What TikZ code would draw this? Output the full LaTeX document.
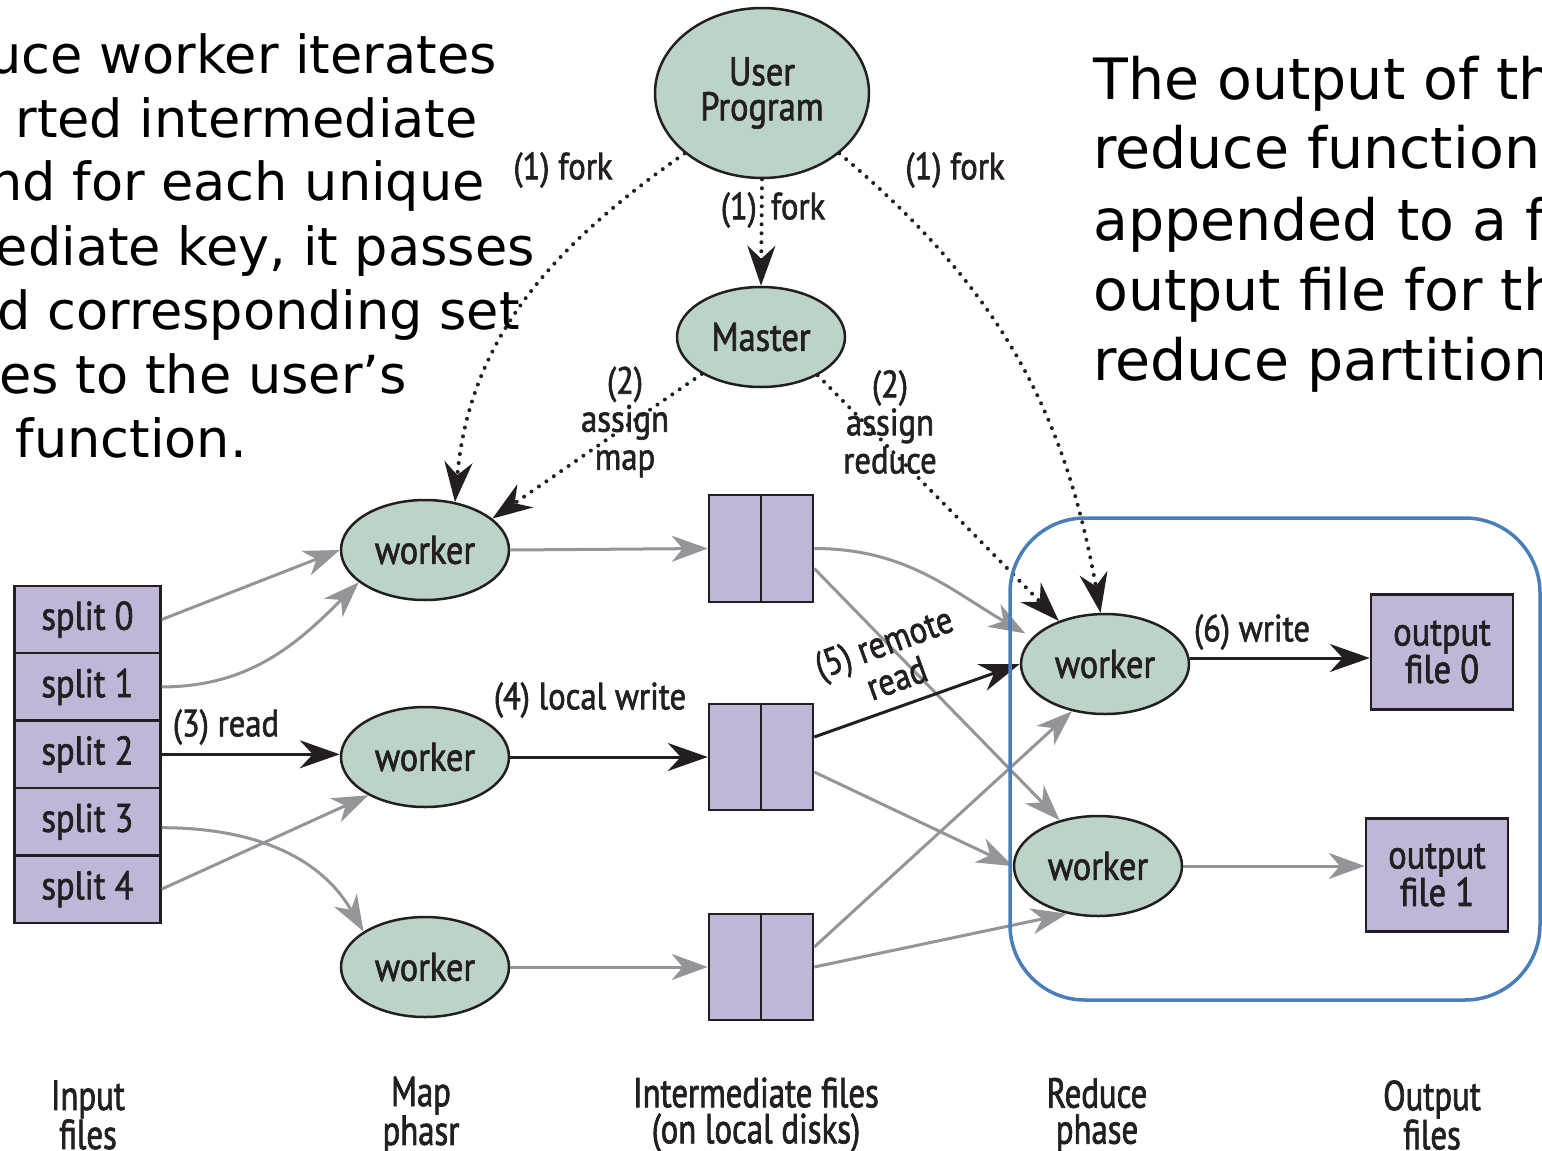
\documentclass[tikz,border=0pt]{standalone}
\usepackage{fontspec}
\setmainfont{DejaVu Sans}
\newfontfamily\dg[FakeStretch=0.86,FakeBold=1.6]{PT Sans}
\newfontfamily\dgn[FakeStretch=0.78,FakeBold=1.6]{PT Sans}
\usetikzlibrary{shapes.geometric,arrows.meta}
\definecolor{ellfill}{HTML}{BCD3C8}
\definecolor{boxfill}{HTML}{BFB6D8}
\definecolor{arrgrey}{HTML}{939598}
\definecolor{ink}{HTML}{231F20}
\definecolor{frameblue}{HTML}{4A7EBB}
\begin{document}
\begin{tikzpicture}[x=1pt,y=-1pt,
  ell/.style={ellipse, draw=ink, line width=2.5pt, fill=ellfill, minimum width=168pt, minimum height=100pt, inner sep=0pt, font=\dg\fontsize{40}{35}\selectfont, text=ink, align=center},
  filebox/.style={rectangle, draw=ink, line width=2.5pt, fill=boxfill, inner sep=0pt, font=\dg\fontsize{40}{36}\selectfont, text=ink, align=center},
  lbl/.style={font=\dg\fontsize{38}{38}\selectfont, text=ink, inner sep=0pt, align=center},
  phase/.style={font=\dgn\fontsize{42}{36}\selectfont, text=ink, inner sep=0pt, align=center},
  greyarr/.style={draw=arrgrey, line width=3pt, -{Stealth[length=36pt,width=26pt,inset=11pt]}},
  blackarr/.style={draw=ink, line width=3pt, -{Stealth[length=40pt,width=28pt,inset=13pt]}},
  dotarr/.style={draw=ink, line width=4pt, line cap=round, dash pattern=on 0pt off 9pt, -{Stealth[length=40pt,width=28pt,inset=13pt]}},
  bigl/.style={font=\fontsize{52.5}{64}\selectfont, inner sep=0pt, text=black, anchor=base east},
  bigr/.style={font=\fontsize{57}{70}\selectfont, inner sep=0pt, text=black, anchor=base west}
]
\useasboundingbox (0,0) rectangle (1542,1151);
\clip (0,0) rectangle (1542,1151);
\fill[white] (0,0) rectangle (1542,1151);

% explanatory texts
\node[bigl] (tl1) at (497,73) {uce worker iterates};
\node[bigl] (tl2) at (478,137) {rted intermediate};
\node[bigl] (tl3) at (485,200) {nd for each unique};
\node[bigl] (tl4) at (535,265) {ediate key, it passes};
\node[bigl] (tl5) at (520,329) {d corresponding set};
\node[bigl] (tl6) at (407,393) {es to the user’s};
\node[bigl] (tl7) at (247,457) {function.};

\node[bigr] (tr1) at (1093,99) {The output of th};
\node[bigr] (tr2) at (1093,168) {reduce function};
\node[bigr] (tr3) at (1093,240) {appended to a f};
\node[bigr] (tr4) at (1093,310) {output file for th};
\node[bigr] (tr5) at (1093,380) {reduce partition};

% nodes
\node[ell, minimum width=214pt, minimum height=170pt] (up) at (762,93) {User\\Program};
\node[ell] (ma) at (761,337) {Master};
\node[ell] (w1) at (425,550) {worker};
\node[ell] (w2) at (425,757) {worker};
\node[ell] (w3) at (425,967) {worker};
\node[ell] (r1) at (1105,664) {worker};
\node[ell] (r2) at (1098,866) {worker};

\node[filebox, minimum width=146pt, minimum height=67.4pt] (s0) at (87.5,619.5) {split 0};
\node[filebox, minimum width=146pt, minimum height=67.4pt] (s1) at (87.5,686.9) {split 1};
\node[filebox, minimum width=146pt, minimum height=67.4pt] (s2) at (87.5,754.3) {split 2};
\node[filebox, minimum width=146pt, minimum height=67.4pt] (s3) at (87.5,821.7) {split 3};
\node[filebox, minimum width=146pt, minimum height=67.4pt] (s4) at (87.5,889.1) {split 4};

\node[filebox, minimum width=104pt, minimum height=107pt] (b1) at (761,548.5) {};
\node[filebox, minimum width=104pt, minimum height=106pt] (b2) at (761,757) {};
\node[filebox, minimum width=104pt, minimum height=106pt] (b3) at (761,967) {};
\draw[ink, line width=2.5pt] (b1.north) -- (b1.south);
\draw[ink, line width=2.5pt] (b2.north) -- (b2.south);
\draw[ink, line width=2.5pt] (b3.north) -- (b3.south);

\node[filebox, minimum width=142pt, minimum height=115pt] (o0) at (1442,652) {output\\file 0};
\node[filebox, minimum width=142pt, minimum height=113pt] (o1) at (1437,875) {output\\file 1};

% map-side arrows
\draw[greyarr] (s0.east) -- (w1.west);
\draw[greyarr] (s1.east) to[out=0,in=225] (w1.206);
\draw[blackarr] (s2.east) -- (s2.east -| w2.west);
\draw[greyarr] ([yshift=-6pt]s3.east) to[out=0,in=120] (w3.150);
\draw[greyarr] (s4.east) -- (w2.214);
\draw[greyarr] (w1.east) -- (b1.west);
\draw[blackarr] (w2.east) -- (b2.west);
\draw[greyarr] (w3.east) -- (b3.west);

% reduce-side arrows
\draw[greyarr, shorten >=8pt] (b1.east) to[out=0,in=150] (r1.160);
\draw[greyarr] ([yshift=-20pt]b1.east) -- (r2.130);
\draw[blackarr] ([yshift=20pt]b2.east) -- (r1.west);
\draw[greyarr] ([yshift=-15pt]b2.east) -- (r2.west);
\draw[greyarr] ([yshift=20pt]b3.east) -- (r1.235);
\draw[greyarr] (b3.east) -- (r2.237);
\draw[blackarr] ([yshift=6pt]r1.east) -- ([yshift=6pt]r1.east -| o0.west);
\draw[greyarr] (r2.east) -- (r2.east -| o1.west);

% control arrows
\draw[dotarr] (up.south) -- (ma.north);
\draw[dotarr] (up.218) to[out=215,in=85] (w1.58);
\draw[dotarr] (up.322) to[out=-40,in=100] (r1.95);
\draw[dotarr] (ma.212) -- (w1.25);
\draw[dotarr] (ma.326) -- (r1.137);

% labels
\node[lbl] (lf1) at (563,170) {(1) fork};
\node[lbl] (lf2) at (773,210) {(1)\hspace{14pt}fork};
\node[lbl] (lf3) at (955,170) {(1) fork};
\node[lbl] (lam) at (625,422) {(2)\\assign\\map};
\node[lbl] (lar) at (890,422) {(2)\\assign\\reduce};
\node[lbl] (lrd) at (226,727) {(3) read};
\node[lbl] (llw) at (590,700) {(4) local write};
\node[lbl, rotate=20] (lrr) at (890,660) {(5) remote\\read};
\node[lbl] (lwr) at (1252,632) {(6) write};

% phase labels
\node[phase] (p1) at (88,1115) {Input\\files};
\node[phase] (p2) at (421,1115) {Map\\phasr};
\node[phase] (p3) at (756,1115) {Intermediate files\\(on local disks)};
\node[phase] (p4) at (1097,1115) {Reduce\\phase};
\node[phase] (p5) at (1432,1115) {Output\\files};

% reduce frame
\node[draw=frameblue, line width=3.5pt, rounded corners=75pt, minimum width=530pt, minimum height=482pt, inner sep=0pt] (frame) at (1275,759) {};
\end{tikzpicture}
\end{document}
